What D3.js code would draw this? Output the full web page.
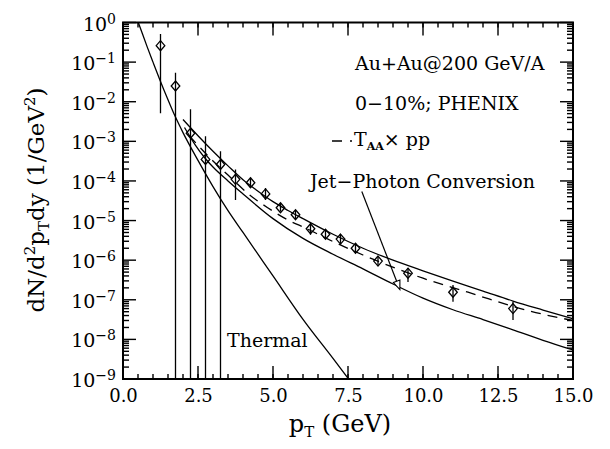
<!DOCTYPE html>
<html>
<head>
<meta charset="utf-8">
<script src="https://cdn.jsdelivr.net/npm/d3@7"></script>
<style>
  body { margin: 0; background: #fff; }
  svg { display: block; font-family: "DejaVu Serif", serif; }
</style>
</head>
<body>
<svg id="chart" width="610" height="449"></svg>
<script>
// PHENIX direct photons, Au+Au 200 GeV, 0-10%
const dataPt    = [1.25, 1.75, 2.25, 2.75, 3.25, 3.75, 4.25, 4.75, 5.25, 5.75, 6.25, 6.75, 7.25, 7.75, 8.5, 9.5, 11, 13];
const dataYield = [0.26, 0.025, 1.6e-3, 3.5e-4, 2.6e-4, 1.1e-4, 9.0e-5, 4.7e-5, 2.1e-5, 1.4e-5, 6.2e-6, 4.5e-6, 3.4e-6, 2.0e-6, 9.5e-7, 4.7e-7, 1.55e-7, 6.0e-8];
const dataHigh  = [0.51, 0.054, 6.5e-3, 1.35e-3, 5.6e-4, 1.95e-4, 1.2e-4, 6.6e-5, 2.6e-5, 1.75e-5, 8.7e-6, 5.9e-6, 4.5e-6, 2.6e-6, 1.25e-6, 6.3e-7, 2.35e-7, 8.9e-8];
// 0 = lower end off the scale
const dataLow   = [5.1e-3, 0, 0, 0, 0, 3.3e-5, 6.6e-5, 3.3e-5, 1.7e-5, 1.1e-5, 4.4e-6, 3.4e-6, 2.6e-6, 1.5e-6, 7.2e-7, 2.8e-7, 8.9e-8, 3.1e-8];

// upper solid curve
const totalPt  = [2.0, 2.5, 3.0, 3.5, 4.0, 4.5, 5.0, 5.5, 6.0, 7.0, 8.0, 9.0, 10.0, 11.0, 12.0, 13.0, 14.0, 15.0];
const totalVal = [3.55e-3, 1.38e-3, 5.6e-4, 2.4e-4, 1.07e-4, 5.5e-5, 3.0e-5, 1.8e-5, 1.12e-5, 4.5e-6, 2.0e-6, 1.0e-6, 5.4e-7, 2.95e-7, 1.66e-7, 9.3e-8, 5.5e-8, 3.3e-8];

// dashed: T_AA x pp
const taaPt  = [2.2, 3.0, 3.5, 4.18, 4.81, 5.53, 6.12, 6.73, 8.0, 10.0, 11.5, 12.2, 13.6, 15.0];
const taaVal = [1.41e-3, 3.2e-4, 1.41e-4, 4.7e-5, 2.14e-5, 1.0e-5, 6.3e-6, 3.7e-6, 1.35e-6, 3.5e-7, 1.55e-7, 1.05e-7, 5.1e-8, 3.0e-8];

// lower solid curve
const lowerPt  = [2.05, 2.4, 2.73, 3.0, 3.5, 4.0, 5.0, 6.0, 7.0, 8.0, 9.0, 10.0, 11.0, 12.0, 13.0, 14.0, 15.0];
const lowerVal = [2.24e-3, 8.3e-4, 3.8e-4, 2.24e-4, 1.0e-4, 4.7e-5, 1.12e-5, 3.55e-6, 1.41e-6, 6.0e-7, 2.5e-7, 1.1e-7, 5.6e-8, 3.16e-8, 1.74e-8, 9.5e-9, 5.4e-9];

// thermal
const thermalPt  = [0.45, 0.51, 0.8, 1.0, 1.23, 1.5, 1.73, 2.0, 2.5, 3.0, 3.5, 4.0, 5.0, 6.0, 7.0, 7.6];
const thermalVal = [1.32, 1.0, 0.25, 0.1, 0.0355, 0.0112, 4.4e-3, 1.66e-3, 3.3e-4, 7.2e-5, 1.78e-5, 5.0e-6, 4.0e-7, 3.2e-8, 3.3e-9, 8.3e-10];

const arrowFrom = [7.96, 5.4e-5];
const arrowTo   = [9.23, 1.8e-7];

const xMajor = [0, 2.5, 5, 7.5, 10, 12.5, 15];
const xMinor = d3.range(0, 15.01, 0.5);
const yMajor = d3.range(-9, 1).map(e => Math.pow(10, e));
const yMinor = [];
d3.range(-9, 0).forEach(e => { for (let k = 2; k <= 9; k++) yMinor.push(k * Math.pow(10, e)); });

const x = d3.scaleLinear().domain([0, 15]).range([123, 573]);
const y = d3.scaleLog().domain([1e-9, 1]).range([379, 22.5]);
const [x0, x1] = x.range();
const [yb, yt] = y.range();

const svg = d3.select("#chart");

svg.append("defs").append("clipPath").attr("id", "plotclip")
  .append("rect").attr("x", x0).attr("y", yt).attr("width", x1 - x0).attr("height", yb - yt);

// tick labels through d3 axes
svg.append("g").attr("transform", `translate(0,${yb})`)
  .call(d3.axisBottom(x).tickValues(xMajor).tickSize(0).tickPadding(10).tickFormat(d3.format(".1f")))
  .call(g => g.select(".domain").remove())
  .call(g => g.selectAll("text").attr("fill", "#000").style("font-size", "18px").style("font-family", "DejaVu Serif"));

svg.append("g").attr("transform", `translate(${x0},0)`)
  .call(d3.axisLeft(y).tickValues(yMajor).tickSize(0).tickPadding(7).tickFormat(d => d))
  .call(g => g.select(".domain").remove())
  .call(g => g.selectAll("text").each(function(d) {
    const t = d3.select(this).text(null).attr("dy", "0.4em").attr("fill", "#000")
      .style("font-size", "19px").style("font-family", "DejaVu Serif");
    const e = Math.round(Math.log10(d));
    t.append("tspan").text("10");
    t.append("tspan").attr("dy", "-7").style("font-size", "14px")
      .text(e === 0 ? "0" : "\u2212" + (-e));
  }));

// curves
const plot = svg.append("g").attr("clip-path", "url(#plotclip)");
const line = d3.line().x(d => x(d[0])).y(d => y(d[1])).curve(d3.curveMonotoneX);
const curves = [
  { pt: thermalPt, val: thermalVal, dash: null },
  { pt: lowerPt, val: lowerVal, dash: null },
  { pt: totalPt, val: totalVal, dash: null },
  { pt: taaPt, val: taaVal, dash: "10,7" }
];
curves.forEach(c => {
  plot.append("path")
    .attr("d", line(d3.zip(c.pt, c.val)))
    .attr("fill", "none").attr("stroke", "#000").attr("stroke-width", 1.3)
    .attr("stroke-dasharray", c.dash);
});

// data: error bars and open diamonds
const points = dataPt.map((p, i) => ({ p, v: dataYield[i], hi: dataHigh[i], lo: dataLow[i] }));
plot.append("g").selectAll("line").data(points).join("line")
  .attr("x1", d => x(d.p)).attr("x2", d => x(d.p))
  .attr("y1", d => y(d.hi)).attr("y2", d => d.lo > 0 ? y(d.lo) : yb)
  .attr("stroke", "#000").attr("stroke-width", 1.3);
plot.append("g").selectAll("path").data(points).join("path")
  .attr("d", d => {
    const cx = x(d.p), cy = y(d.v), p = d3.path();
    p.moveTo(cx, cy - 5); p.lineTo(cx + 4.3, cy); p.lineTo(cx, cy + 5); p.lineTo(cx - 4.3, cy); p.closePath();
    return p.toString();
  })
  .attr("fill", "none").attr("stroke", "#000").attr("stroke-width", 1.3);

// inward ticks on all four sides, as thin filled bars
const tickW = 1.4;
function xTicks(vals, len) {
  const g = svg.append("g").attr("fill", "#000");
  g.selectAll(".tb").data(vals).join("rect").attr("class", "tb")
    .attr("x", d => x(d) - tickW / 2).attr("y", yb - len).attr("width", tickW).attr("height", len);
  g.selectAll(".tt").data(vals).join("rect").attr("class", "tt")
    .attr("x", d => x(d) - tickW / 2).attr("y", yt).attr("width", tickW).attr("height", len);
}
function yTicks(vals, len) {
  const g = svg.append("g").attr("fill", "#000");
  g.selectAll(".tl").data(vals).join("rect").attr("class", "tl")
    .attr("x", x0).attr("y", d => y(d) - tickW / 2).attr("width", len).attr("height", tickW);
  g.selectAll(".tr").data(vals).join("rect").attr("class", "tr")
    .attr("x", x1 - len).attr("y", d => y(d) - tickW / 2).attr("width", len).attr("height", tickW);
}
xTicks(xMinor, 5);
xTicks(xMajor, 13);
yTicks(yMinor, 6);
yTicks(yMajor, 13);

// frame
svg.append("rect").attr("x", x0).attr("y", yt).attr("width", x1 - x0).attr("height", yb - yt)
  .attr("fill", "none").attr("stroke", "#000").attr("stroke-width", 2);

// arrow for jet-photon conversion
{
  const ax0 = x(arrowFrom[0]), ay0 = y(arrowFrom[1]);
  const ax1 = x(arrowTo[0]), ay1 = y(arrowTo[1]);
  const len = Math.hypot(ax1 - ax0, ay1 - ay0);
  const ux = (ax1 - ax0) / len, uy = (ay1 - ay0) / len;
  const bx = ax1 - 9 * ux, by = ay1 - 9 * uy;
  svg.append("line").attr("x1", ax0).attr("y1", ay0).attr("x2", bx).attr("y2", by)
    .attr("stroke", "#000").attr("stroke-width", 1.2);
  svg.append("path")
    .attr("d", `M${ax1},${ay1}L${bx - 3.5 * uy},${by + 3.5 * ux}L${bx + 3.5 * uy},${by - 3.5 * ux}Z`)
    .attr("fill", "#fff").attr("stroke", "#000").attr("stroke-width", 1.1);
}

// annotations
const note = (tx, ty, str) => svg.append("text").attr("x", tx).attr("y", ty)
  .style("font-size", "19px").attr("fill", "#000").text(str);
note(355, 70, "Au+Au@200 GeV/A");
note(355, 110, "0\u221210%; PHENIX");
note(310, 188, "Jet\u2212Photon Conversion");
note(227, 347, "Thermal");

svg.append("line").attr("x1", 332).attr("x2", 352).attr("y1", 141).attr("y2", 141)
  .attr("stroke", "#000").attr("stroke-width", 1.3).attr("stroke-dasharray", "10,8,2");
const leg = svg.append("text").attr("x", 354).attr("y", 146).style("font-size", "19px");
leg.append("tspan").text("T");
leg.append("tspan").attr("dy", 4).style("font-size", "11px").style("font-weight", "bold").text("AA");
leg.append("tspan").attr("dy", -4).text("\u00d7 pp");

// axis titles
const xTitle = svg.append("text").attr("x", 340).attr("y", 432).attr("text-anchor", "middle").style("font-size", "24px");
xTitle.append("tspan").text("p");
xTitle.append("tspan").attr("dy", 5).style("font-size", "15px").text("T");
xTitle.append("tspan").attr("dy", -5).text(" (GeV)");

const yTitle = svg.append("text").attr("transform", "translate(44,200) rotate(-90)")
  .attr("text-anchor", "middle").style("font-size", "23px");
yTitle.append("tspan").text("dN/d");
yTitle.append("tspan").attr("dy", -9).style("font-size", "15px").text("2");
yTitle.append("tspan").attr("dy", 9).text("p");
yTitle.append("tspan").attr("dy", 5).style("font-size", "15px").text("T");
yTitle.append("tspan").attr("dy", -5).text("dy (1/GeV");
yTitle.append("tspan").attr("dy", -9).style("font-size", "15px").text("2");
yTitle.append("tspan").attr("dy", 9).text(")");
</script>
</body>
</html>
